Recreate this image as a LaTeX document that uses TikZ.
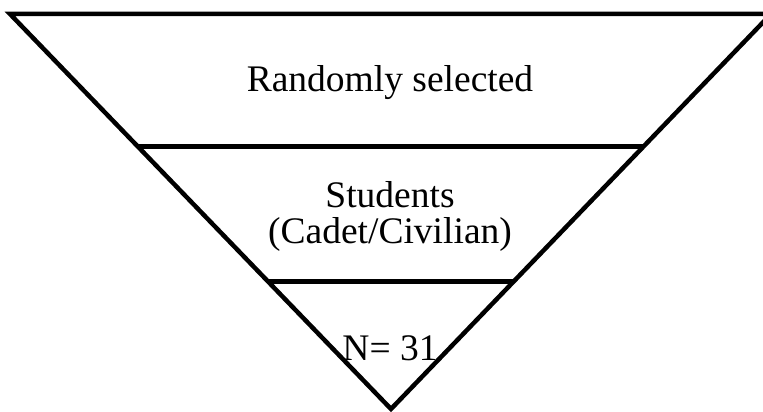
\documentclass[tikz,border=0pt]{standalone}
\usepackage{fontspec}
\setmainfont{Liberation Serif}
\usetikzlibrary{calc}

\begin{document}
\begin{tikzpicture}[
  x=1pt, y=-1pt,
  edge/.style={draw, line width=4.5pt, line join=miter},
  label/.style={font=\fontsize{37.5}{36}\selectfont, align=center, anchor=base, inner sep=0pt}
]
  \useasboundingbox (0,0) rectangle (763,412);
  % corners of the funnel
  \coordinate (tl) at (10,14);
  \coordinate (tr) at (771,14);
  \coordinate (apex) at (391,409);
  \draw[edge] (tl) -- (tr) -- (apex) -- cycle;

  % dividing lines
  \coordinate (l1) at ($(tl)!0.336!(apex)$);
  \coordinate (r1) at ($(tr)!0.336!(apex)$);
  \coordinate (l2) at ($(tl)!0.677!(apex)$);
  \coordinate (r2) at ($(tr)!0.677!(apex)$);
  \draw[edge] (l1) -- (r1);
  \draw[edge] (l2) -- (r2);

  \node[label] (sel) at (390,92) {Randomly selected};
  \node[label] (stu) at (390,243) {Students\\(Cadet/Civilian)};
  \node[label] (num) at (390,360) {N= 31};
\end{tikzpicture}
\end{document}
